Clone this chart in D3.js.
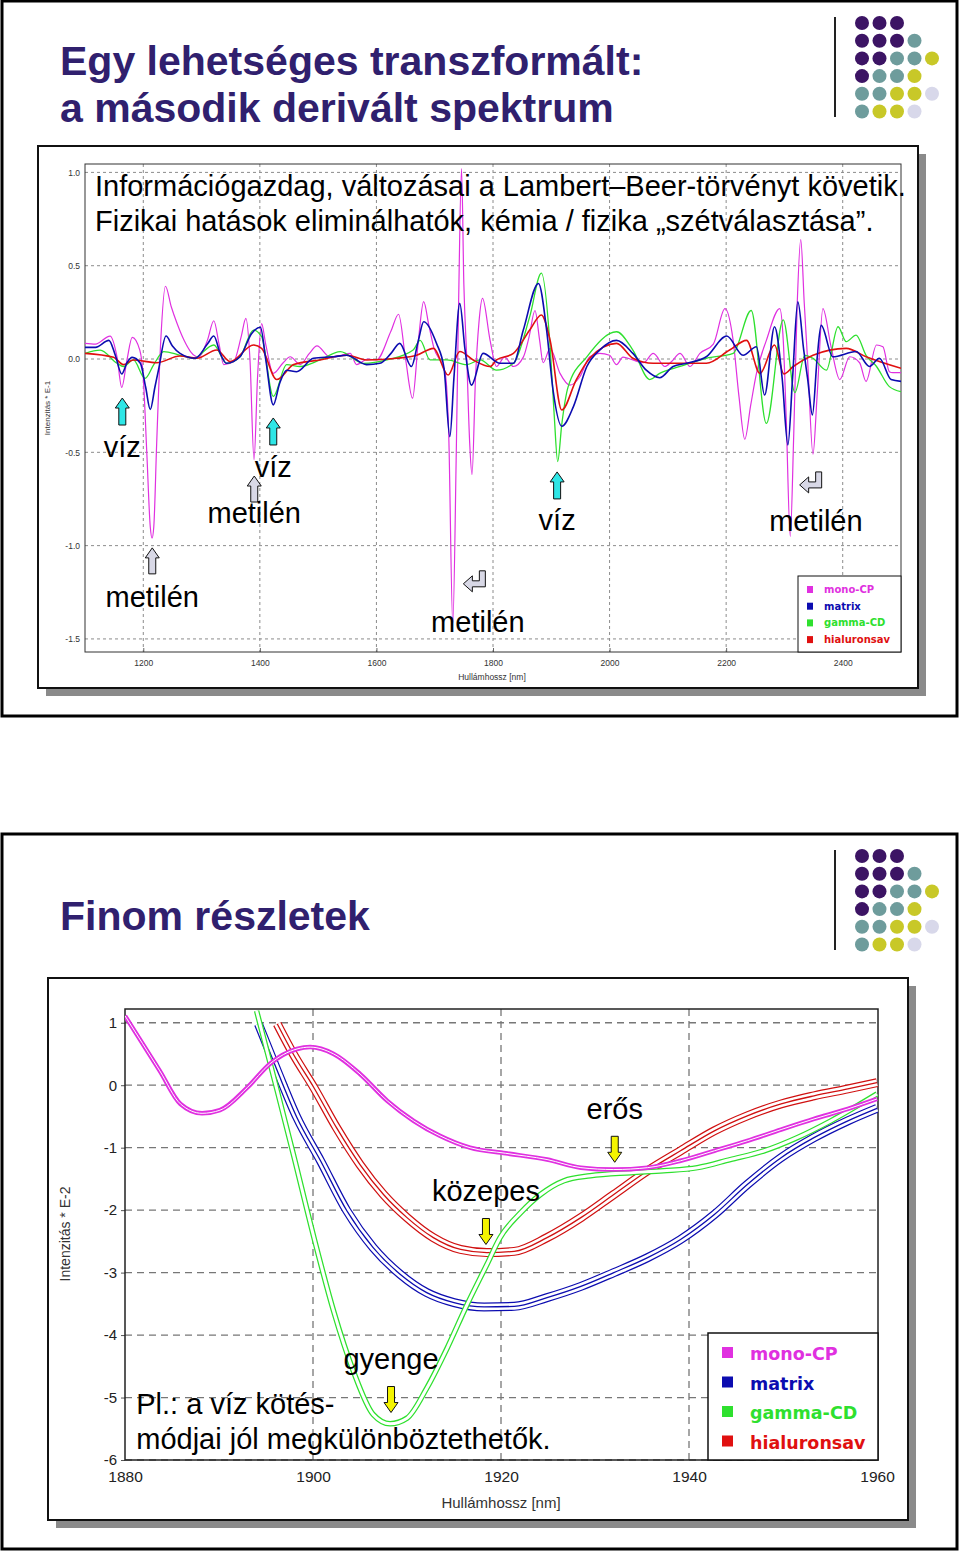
<!DOCTYPE html>
<html>
<head>
<meta charset="utf-8">
<script src="https://cdn.jsdelivr.net/npm/d3@7"></script>
<style>
body { margin: 0; background: #fff; }
svg { display: block; font-family: "Liberation Sans", Arial, sans-serif; }
</style>
</head>
<body>
<script>
// JavaScript source code
var width = 960;
var height = 1552;

// ---- slide 1: full second derivative spectrum (1100-2500 nm, Intenzitás * E-1)
var xTicks1 = [1200, 1400, 1600, 1800, 2000, 2200, 2400];
var yTicks1 = [1.0, 0.5, 0.0, -0.5, -1.0, -1.5];

var monoCP1 = [[1100,0.084],[1118,0.08],[1143,0.123],[1155,0.01],[1163,-0.152],[1172,-0.005],[1181,0.116],[1194,0.048],
  [1200,-0.1],[1206,-0.5],[1212,-0.9],[1215,-0.96],[1218,-0.9],[1223,-0.45],[1230,0.1],[1238,0.39],[1248,0.28],[1258,0.19],
  [1270,0.1],[1281,0.04],[1295,0.01],[1310,0.1],[1321,0.205],[1330,0.08],[1338,-0.03],[1355,-0.015],[1368,0.12],[1376,0.218],
  [1383,0.0],[1390,-0.54],[1396,-0.1],[1403,0.19],[1410,0.08],[1423,-0.077],[1440,-0.02],[1452,0.012],[1469,-0.03],[1485,0.03],
  [1498,0.07],[1520,0.012],[1540,0.02],[1555,0.03],[1566,-0.03],[1585,0.0],[1600,-0.005],[1625,0.15],[1638,0.24],[1650,0.0],
  [1662,-0.21],[1672,0.1],[1681,0.307],[1690,0.18],[1698,0.066],[1718,-0.077],[1724,-0.4],[1731,-1.42],[1737,-0.5],[1741,0.3],
  [1746,1.02],[1750,0.4],[1755,0.0],[1760,-0.45],[1764,-0.62],[1770,-0.1],[1776,0.2],[1782,0.325],[1795,0.10],[1806,-0.04],
  [1820,0.01],[1835,-0.04],[1852,0.01],[1862,0.12],[1872,0.26],[1880,0.1],[1886,-0.02],[1898,0.057],[1915,-0.077],[1932,-0.14],
  [1949,-0.095],[1966,0.012],[1983,0.03],[2000,0.02],[2012,-0.03],[2023,0.01],[2040,-0.005],[2058,-0.02],[2075,0.03],[2095,-0.04],
  [2106,-0.015],[2121,0.03],[2138,-0.04],[2155,0.03],[2178,0.08],[2198,0.27],[2212,0.10],[2222,-0.2],[2232,-0.43],[2242,-0.25],
  [2252,-0.077],[2269,0.10],[2292,0.27],[2298,0.1],[2303,-0.31],[2310,-0.95],[2316,-0.4],[2322,0.3],[2328,0.64],[2334,0.3],
  [2340,-0.02],[2349,-0.51],[2356,-0.2],[2366,0.27],[2380,0.066],[2395,-0.11],[2412,0.012],[2429,-0.02],[2440,-0.12],
  [2458,0.075],[2469,0.066],[2480,-0.068],[2486,-0.073],[2500,-0.073]];

var matrix1 = [[1100,0.0625],[1118,0.0625],[1141,0.10],[1152,0.02],[1163,-0.08],[1172,-0.02],[1181,0.009],[1195,-0.023],
  [1204,-0.15],[1212,-0.27],[1220,-0.15],[1226,-0.06],[1239,0.123],[1250,0.07],[1263,0.03],[1289,0.004],[1310,0.08],[1321,0.123],
  [1332,0.03],[1343,-0.023],[1366,0.012],[1386,0.137],[1401,0.17],[1410,0.0],[1423,-0.246],[1434,-0.13],[1446,-0.06],[1463,-0.068],
  [1492,0.004],[1526,0.012],[1549,0.02],[1583,-0.03],[1606,-0.023],[1625,0.03],[1640,0.084],[1660,-0.04],[1672,0.1],[1681,0.2],
  [1703,0.084],[1716,-0.05],[1726,-0.416],[1733,-0.1],[1743,0.298],[1752,0.05],[1763,-0.14],[1783,0.03],[1812,-0.023],[1835,-0.023],
  [1852,0.155],[1878,0.405],[1892,0.155],[1903,-0.166],[1918,-0.36],[1938,-0.255],[1961,-0.04],[1983,0.048],[2012,0.1],[2040,0.03],
  [2063,-0.06],[2086,-0.10],[2109,-0.04],[2132,-0.023],[2166,0.012],[2201,0.123],[2229,0.02],[2252,0.066],[2266,-0.193],[2283,0.173],
  [2296,-0.1],[2306,-0.46],[2314,-0.1],[2323,0.307],[2333,0.05],[2340,-0.11],[2348,-0.3],[2356,0.0],[2363,0.18],[2383,0.012],
  [2423,0.04],[2446,-0.04],[2463,0.004],[2483,-0.11],[2500,-0.12]];

var gammaCD1 = [[1100,0.03],[1126,0.048],[1155,-0.023],[1166,-0.04],[1183,-0.005],[1203,-0.104],[1218,-0.03],[1235,0.04],
  [1263,0.02],[1286,0.004],[1321,0.075],[1343,-0.023],[1366,0.012],[1389,0.155],[1403,0.12],[1423,-0.2],[1446,-0.03],[1469,-0.04],
  [1503,-0.005],[1538,0.04],[1578,-0.023],[1618,-0.005],[1663,0.048],[1675,0.1],[1692,-0.005],[1721,-0.005],[1755,-0.03],
  [1778,-0.005],[1806,-0.06],[1835,-0.023],[1863,0.227],[1883,0.46],[1898,0.066],[1905,-0.3],[1911,-0.55],[1918,-0.35],
  [1929,-0.148],[1961,0.012],[2012,0.146],[2040,0.048],[2069,-0.11],[2086,-0.077],[2121,-0.04],[2166,0.004],[2212,0.03],
  [2243,0.26],[2269,-0.345],[2298,0.21],[2318,-0.18],[2335,0.02],[2349,0.004],[2372,-0.06],[2392,0.173],[2406,0.093],
  [2423,0.128],[2440,0.02],[2458,-0.04],[2480,-0.148],[2500,-0.175]];

var hialuronsav1 = [[1100,0.03],[1149,0.009],[1166,-0.03],[1183,-0.005],[1223,-0.02],[1263,0.016],[1292,0.004],[1326,0.048],
  [1349,-0.014],[1389,0.075],[1403,0.057],[1429,-0.11],[1458,-0.03],[1503,-0.005],[1549,0.02],[1583,-0.005],[1635,0.004],
  [1669,0.02],[1698,0.057],[1723,-0.086],[1743,0.04],[1766,-0.005],[1795,-0.04],[1806,-0.005],[1835,0.03],[1863,0.155],
  [1883,0.236],[1898,0.1],[1918,-0.273],[1943,-0.11],[1966,0.004],[2012,0.084],[2040,0.004],[2075,-0.023],[2121,-0.023],
  [2166,-0.023],[2206,0.048],[2235,0.1],[2258,-0.077],[2283,0.075],[2299,-0.08],[2315,-0.04],[2349,0.02],[2406,0.057],
  [2440,0.012],[2500,-0.05]];

// ---- slide 2: detail 1880-1960 nm (Intenzitás * E-2)
var xTicks2 = [1880, 1900, 1920, 1940, 1960];
var yTicks2 = [1, 0, -1, -2, -3, -4, -5, -6];

var monoCP2 = [[1880,1.11],[1883.7,0.23],[1885.9,-0.30],[1888.2,-0.45],[1890.1,-0.40],[1893.0,-0.04],[1895.4,0.34],
  [1898.3,0.58],[1899.7,0.61],[1902.2,0.50],[1905.0,0.18],[1907.9,-0.25],[1910.7,-0.57],[1913.5,-0.81],[1916.7,-1.0],
  [1920.5,-1.09],[1924.9,-1.19],[1928.5,-1.32],[1932.0,-1.35],[1935.6,-1.32],[1939.1,-1.21],[1942.7,-1.05],[1946.2,-0.89],
  [1949.8,-0.71],[1953.3,-0.54],[1956.9,-0.38],[1960,-0.22]];

var matrix2 = [[1894.2,0.98],[1896.2,0.23],[1898.3,-0.52],[1900.8,-1.21],[1903.6,-2.01],[1906.4,-2.60],[1909.3,-3.03],
  [1912.1,-3.32],[1915.0,-3.48],[1918.2,-3.55],[1921.4,-3.54],[1924.9,-3.40],[1928.5,-3.22],[1932.0,-3.0],[1935.6,-2.76],
  [1939.1,-2.47],[1942.7,-2.07],[1946.2,-1.59],[1949.8,-1.16],[1953.3,-0.84],[1956.9,-0.57],[1960,-0.37]];

var gammaCD2 = [[1894.0,1.19],[1896.2,-0.09],[1897.9,-1.1],[1900.1,-2.44],[1902.2,-3.62],[1904.3,-4.58],[1906.4,-5.27],
  [1908.2,-5.42],[1910.0,-5.33],[1912.1,-4.85],[1914.3,-4.20],[1916.4,-3.51],[1918.5,-2.87],[1919.9,-2.44],[1922.1,-2.04],
  [1924.2,-1.75],[1926.7,-1.53],[1929.5,-1.45],[1933.8,-1.40],[1937.3,-1.37],[1940.9,-1.32],[1944.4,-1.19],[1948.0,-1.05],
  [1951.5,-0.84],[1955.1,-0.57],[1960,-0.14]];

var hialuronsav2 = [[1896.2,0.98],[1897.9,0.50],[1900.1,-0.04],[1902.5,-0.68],[1905.0,-1.27],[1907.5,-1.75],[1910.0,-2.12],
  [1912.8,-2.44],[1915.7,-2.63],[1918.5,-2.68],[1921.4,-2.66],[1924.9,-2.44],[1928.5,-2.12],[1932.0,-1.75],[1935.6,-1.37],
  [1939.1,-1.05],[1942.7,-0.73],[1946.2,-0.49],[1949.8,-0.30],[1953.3,-0.17],[1956.9,-0.06],[1960,0.04]];

var seriesNames = ["mono-CP", "matrix", "gamma-CD", "hialuronsav"];
var seriesColors = ["#e030e0", "#0c0cb0", "#2ee02e", "#e01010"];

// annotations (data units)
var vizNotes = [[1164, -0.209, -0.525], [1423, -0.316, -0.632], [1910, -0.605, -0.916]];
var metilenUp = [[1390.4, -0.627, -0.878], [1215.4, -1.012, -1.328]];
var metilenBent = [[1768, -1.135, 1774, -1.462], [2345, -0.605, 2354, -0.921]];
var strengthNotes = [["erős", 1932.1, -0.545, -1.234], ["közepes", 1918.4, -1.86, -2.55], ["gyenge", 1908.3, -4.55, -5.24]];

var svg = d3.select("body").append("svg")
    .attr("width", width)
    .attr("height", height);

var titleColor = "#30206e";
var dotColors = { P: "#3c1464", T: "#6e9c9c", Y: "#c8c828", L: "#d8d8ea" };
var dotPattern = ["PPP", "PPPT", "PPTTY", "PTTY", "TTYYL", "TYYL"];

// plain hyphen minus like the original software
function hy(f) { return function (d) { return f(d).replace("\u2212", "-"); }; }

function slide(top, titles) {
    var g = svg.append("g").attr("transform", "translate(0," + top + ")");
    g.append("rect").attr("x", 2).attr("y", 1).attr("width", 955).attr("height", 715)
        .attr("fill", "#fff").attr("stroke", "#000").attr("stroke-width", 3);
    g.append("line").attr("x1", 835).attr("x2", 835).attr("y1", 17).attr("y2", 117)
        .attr("stroke", "#222").attr("stroke-width", 2);
    dotPattern.forEach(function (row, r) {
        row.split("").forEach(function (c, k) {
            g.append("circle").attr("cx", 862 + k * 17.5).attr("cy", 23 + r * 17.7).attr("r", 7)
                .attr("fill", dotColors[c]);
        });
    });
    titles.forEach(function (t) {
        g.append("text").attr("x", 60).attr("y", t[1]).text(t[0])
            .attr("font-size", 41).attr("font-weight", "bold").attr("fill", titleColor);
    });
}

slide(0, [["Egy lehetséges transzformált:", 75], ["a második derivált spektrum", 122]]);
slide(833, [["Finom részletek", 930 - 833]]);

function frame(x, y, w, h) {
    svg.append("rect").attr("x", x + 8).attr("y", y + 8).attr("width", w).attr("height", h).attr("fill", "#8a8a8a");
    svg.append("rect").attr("x", x).attr("y", y).attr("width", w).attr("height", h)
        .attr("fill", "#fff").attr("stroke", "#111").attr("stroke-width", 2);
}

function arrowPath(cx, tipY, len, dir) {
    var hw = 7, sw = 3.5, hh = 10;
    var p = d3.path();
    p.moveTo(cx, tipY);
    p.lineTo(cx + hw, tipY + dir * hh);
    p.lineTo(cx + sw, tipY + dir * hh);
    p.lineTo(cx + sw, tipY + dir * len);
    p.lineTo(cx - sw, tipY + dir * len);
    p.lineTo(cx - sw, tipY + dir * hh);
    p.lineTo(cx - hw, tipY + dir * hh);
    p.closePath();
    return p.toString();
}

function bentPath(cx, y0) {
    var x0 = cx - 11, w = 22, h = 21, t = 6, yb = y0 + h - 8;
    var p = d3.path();
    p.moveTo(x0 + w - t, y0);
    p.lineTo(x0 + w, y0);
    p.lineTo(x0 + w, yb + 3);
    p.lineTo(x0 + 9, yb + 3);
    p.lineTo(x0 + 9, yb + 8);
    p.lineTo(x0, yb);
    p.lineTo(x0 + 9, yb - 8);
    p.lineTo(x0 + 9, yb - 3);
    p.lineTo(x0 + w - t, yb - 3);
    p.closePath();
    return p.toString();
}

// ================= chart 1 =================
frame(38, 146, 880, 542);

var x1 = d3.scaleLinear().domain([1100, 2500]).range([85, 901]);
var y1 = d3.scaleLinear().domain([-1.57, 1.045]).range([652, 164]);

var g1 = svg.append("g");
g1.append("clipPath").attr("id", "clip1").append("rect")
    .attr("x", 85).attr("y", 164).attr("width", 816).attr("height", 488);

g1.selectAll(".gx").data(xTicks1).enter().append("line")
    .attr("x1", function (d) { return x1(d); }).attr("x2", function (d) { return x1(d); })
    .attr("y1", 164).attr("y2", 652)
    .attr("stroke", "#8c8c8c").attr("stroke-dasharray", "3,3");
g1.selectAll(".gy").data(yTicks1).enter().append("line")
    .attr("x1", 85).attr("x2", 901)
    .attr("y1", function (d) { return y1(d); }).attr("y2", function (d) { return y1(d); })
    .attr("stroke", "#8c8c8c").attr("stroke-dasharray", "3,3");

g1.append("g").attr("transform", "translate(85,0)")
    .call(d3.axisLeft(y1).tickValues(yTicks1).tickSize(0).tickPadding(5).tickFormat(hy(d3.format(".1f"))))
    .call(function (a) { a.select(".domain").remove(); })
    .selectAll("text").attr("font-size", 8.5).attr("fill", "#333").attr("font-family", "Liberation Sans, Arial");
g1.append("g").attr("transform", "translate(0,652)")
    .call(d3.axisBottom(x1).tickValues(xTicks1).tickSize(-4).tickPadding(8).tickFormat(d3.format("d")))
    .call(function (a) { a.select(".domain").remove(); a.selectAll("line").attr("stroke", "#666"); })
    .selectAll("text").attr("font-size", 8.5).attr("fill", "#333").attr("font-family", "Liberation Sans, Arial");

g1.append("rect").attr("x", 85).attr("y", 164).attr("width", 816).attr("height", 488)
    .attr("fill", "none").attr("stroke", "#333").attr("stroke-width", 1);

g1.append("text").attr("transform", "translate(50,408) rotate(-90)").attr("text-anchor", "middle")
    .attr("font-size", 8).attr("fill", "#333").text("Intenzitás * E-1");
g1.append("text").attr("x", 492).attr("y", 680).attr("text-anchor", "middle")
    .attr("font-size", 8.5).attr("fill", "#333").text("Hullámhossz [nm]");

var line1 = d3.line()
    .x(function (d) { return x1(d[0]); })
    .y(function (d) { return y1(d[1]); })
    .curve(d3.curveMonotoneX);

var lines1 = g1.append("g").attr("clip-path", "url(#clip1)");
[[monoCP1, 0, 1.2], [gammaCD1, 2, 1.3], [hialuronsav1, 3, 1.6], [matrix1, 1, 1.6]].forEach(function (s) {
    lines1.append("path").attr("d", line1(s[0])).attr("fill", "none")
        .attr("stroke", seriesColors[s[1]]).attr("stroke-width", s[2]);
});

// legend 1
var leg1 = g1.append("g");
leg1.append("rect").attr("x", 798).attr("y", 576).attr("width", 103).attr("height", 76)
    .attr("fill", "#fff").attr("stroke", "#111");
seriesNames.forEach(function (n, i) {
    leg1.append("rect").attr("x", 807).attr("y", 586 + i * 16.7).attr("width", 6).attr("height", 7)
        .attr("fill", seriesColors[i]);
    leg1.append("text").attr("x", 824).attr("y", 593 + i * 16.7).text(n)
        .attr("font-family", "DejaVu Sans, Verdana").attr("font-weight", "bold")
        .attr("font-size", 10).attr("fill", seriesColors[i]);
});

// notes chart 1
var big = 29;
g1.append("text").attr("x", 95).attr("y", 196).attr("font-size", big)
    .text("Információgazdag, változásai a Lambert\u2013Beer-törvényt követik.");
g1.append("text").attr("x", 95).attr("y", 231).attr("font-size", big)
    .text("Fizikai hatások eliminálhatók, kémia / fizika \u201eszétválasztása\u201d.");

vizNotes.forEach(function (d) {
    g1.append("path").attr("d", arrowPath(x1(d[0]), y1(d[1]), 27, 1))
        .attr("fill", "#2ee6e6").attr("stroke", "#111").attr("stroke-width", 1);
    g1.append("text").attr("x", x1(d[0])).attr("y", y1(d[2])).attr("text-anchor", "middle")
        .attr("font-size", big).text("víz");
});
metilenUp.forEach(function (d) {
    g1.append("path").attr("d", arrowPath(x1(d[0]), y1(d[1]), 26, 1))
        .attr("fill", "#d8d8e6").attr("stroke", "#111").attr("stroke-width", 1);
    g1.append("text").attr("x", x1(d[0])).attr("y", y1(d[2])).attr("text-anchor", "middle")
        .attr("font-size", big).text("metilén");
});
metilenBent.forEach(function (d) {
    g1.append("path").attr("d", bentPath(x1(d[0]), y1(d[1])))
        .attr("fill", "#d8d8e6").attr("stroke", "#111").attr("stroke-width", 1);
    g1.append("text").attr("x", x1(d[2])).attr("y", y1(d[3])).attr("text-anchor", "middle")
        .attr("font-size", big).text("metilén");
});

// ================= chart 2 =================
frame(48, 978, 860, 542);

var x2 = d3.scaleLinear().domain([1880, 1960]).range([125, 877]);
var y2 = d3.scaleLinear().domain([-6, 1.22]).range([1460, 1009]);

var g2 = svg.append("g");
g2.append("clipPath").attr("id", "clip2").append("rect")
    .attr("x", 125).attr("y", 1009).attr("width", 753).attr("height", 451);

g2.selectAll(".gx").data(xTicks2.slice(1, 4)).enter().append("line")
    .attr("x1", function (d) { return x2(d); }).attr("x2", function (d) { return x2(d); })
    .attr("y1", 1009).attr("y2", 1460)
    .attr("stroke", "#777").attr("stroke-width", 1.3).attr("stroke-dasharray", "7,5");
g2.selectAll(".gy").data(yTicks2).enter().append("line")
    .attr("x1", 125).attr("x2", 877)
    .attr("y1", function (d) { return y2(d); }).attr("y2", function (d) { return y2(d); })
    .attr("stroke", "#777").attr("stroke-width", 1.3).attr("stroke-dasharray", "7,5");

g2.append("g").attr("transform", "translate(125,0)")
    .call(d3.axisLeft(y2).tickValues(yTicks2).tickSize(4).tickPadding(4).tickFormat(hy(d3.format("d"))))
    .call(function (a) { a.select(".domain").remove(); a.selectAll("line").attr("stroke", "#555"); })
    .selectAll("text").attr("font-size", 15).attr("fill", "#222").attr("font-family", "Liberation Sans, Arial");
g2.append("g").attr("transform", "translate(0,1460)")
    .call(d3.axisBottom(x2).tickValues(xTicks2).tickSize(0).tickPadding(11).tickFormat(d3.format("d")))
    .call(function (a) { a.select(".domain").remove(); })
    .selectAll("text").attr("font-size", 15.5).attr("fill", "#222").attr("font-family", "Liberation Sans, Arial");

g2.append("rect").attr("x", 125).attr("y", 1009).attr("width", 753).attr("height", 451)
    .attr("fill", "none").attr("stroke", "#222").attr("stroke-width", 1.5);

g2.append("text").attr("transform", "translate(70,1234) rotate(-90)").attr("text-anchor", "middle")
    .attr("font-size", 14).attr("fill", "#333").text("Intenzitás * E-2");
g2.append("text").attr("x", 501).attr("y", 1508).attr("text-anchor", "middle")
    .attr("font-size", 15).attr("fill", "#333").text("Hullámhossz [nm]");

var line2 = d3.line()
    .x(function (d) { return x2(d[0]); })
    .y(function (d) { return y2(d[1]); })
    .curve(d3.curveMonotoneX);

// replicate bundles: outer coloured stroke, white gap, coloured core
var lines2 = g2.append("g").attr("clip-path", "url(#clip2)");
function bundle(data, color, layers) {
    layers.forEach(function (l) {
        lines2.append("path").attr("d", line2(data)).attr("fill", "none")
            .attr("stroke", l[0] ? color : "#fff").attr("stroke-width", l[1])
            .attr("stroke-linejoin", "round");
    });
}
bundle(hialuronsav2, "#d01010", [[1, 9], [0, 6.6], [1, 1.3]]);
bundle(matrix2, seriesColors[1], [[1, 9], [0, 6.6], [1, 1.3]]);
bundle(gammaCD2, seriesColors[2], [[1, 5.5], [0, 3]]);
bundle(monoCP2, seriesColors[0], [[1, 4.5], [0, 1]]);

// legend 2
var leg2 = g2.append("g");
leg2.append("rect").attr("x", 708).attr("y", 1333).attr("width", 170).attr("height", 127)
    .attr("fill", "#fff").attr("stroke", "#111").attr("stroke-width", 1.5);
seriesNames.forEach(function (n, i) {
    leg2.append("rect").attr("x", 722).attr("y", 1347 + i * 29.5).attr("width", 11).attr("height", 11)
        .attr("fill", seriesColors[i]);
    leg2.append("text").attr("x", 750).attr("y", 1360 + i * 29.5).text(n)
        .attr("font-family", "DejaVu Sans, Verdana").attr("font-weight", "bold")
        .attr("font-size", 17.5).attr("fill", seriesColors[i]);
});

strengthNotes.forEach(function (d) {
    g2.append("text").attr("x", x2(d[1])).attr("y", y2(d[2])).attr("text-anchor", "middle")
        .attr("font-size", big).text(d[0]);
    g2.append("path").attr("d", arrowPath(x2(d[1]), y2(d[3]), 26, -1))
        .attr("fill", "#f4f400").attr("stroke", "#111").attr("stroke-width", 1);
});
g2.append("text").attr("x", x2(1881.2)).attr("y", y2(-5.27)).attr("font-size", big).text("Pl.: a víz kötés-");
g2.append("text").attr("x", x2(1881.2)).attr("y", y2(-5.83)).attr("font-size", big).text("módjai jól megkülönböztethetők.");
</script>
</body>
</html>
